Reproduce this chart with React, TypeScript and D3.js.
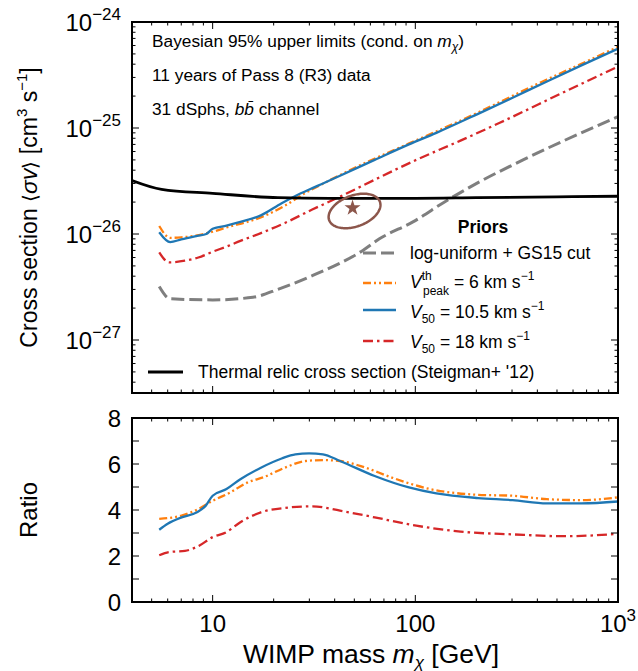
import React from "react";
import * as d3 from "d3";

// WIMP mass grid (GeV) and limits
const massThermal = [4, 5.6, 10, 21, 38, 100, 200, 500, 1000];
const sigmaThermal = [3.2e-26, 2.64e-26, 2.42e-26, 2.2e-26, 2.17e-26, 2.17e-26, 2.2e-26, 2.24e-26, 2.27e-26];

const massGS15 = [5.45, 6.17, 10, 15.8, 21.3, 31.2, 55.1, 66.5, 97.3, 142, 207, 340, 1000];
const sigmaGS15 = [3.2e-27, 2.45e-27, 2.39e-27, 2.53e-27, 3.04e-27, 4.06e-27, 7.0e-27, 9.0e-27, 1.3e-26, 2.05e-26, 3.1e-26, 5.0e-26, 1.28e-25];

const massV105 = [5.45, 6.17, 7.0, 8.4, 9.3, 10, 11.7, 13.7, 17.3, 21.9, 25.6, 30, 35, 42.5, 63, 93, 127, 204, 302, 446, 660, 1000];
const sigmaV105 = [1.04e-26, 8.4e-27, 8.9e-27, 9.6e-27, 1.0e-26, 1.12e-26, 1.2e-26, 1.3e-26, 1.5e-26, 1.95e-26, 2.28e-26, 2.63e-26, 3.0e-26, 3.55e-26, 5.0e-26, 7.0e-26, 9.0e-26, 1.36e-25, 1.93e-25, 2.75e-25, 3.9e-25, 5.6e-25];

const massVpeak = [5.45, 6.17, 7.0, 8.4, 10, 12.2, 14.8, 18, 22.7, 28.8, 35, 42.5, 54, 77, 113, 204, 302, 446, 660, 1000];
const sigmaVpeak = [1.19e-26, 9.2e-27, 9.3e-27, 9.7e-27, 1.05e-26, 1.18e-26, 1.3e-26, 1.48e-26, 1.85e-26, 2.45e-26, 2.98e-26, 3.6e-26, 4.5e-26, 6.1e-26, 8.4e-26, 1.4e-25, 2.01e-25, 2.87e-25, 4.03e-25, 5.83e-25];

const massV18 = [5.45, 6.1, 7.3, 8.5, 10, 11.7, 13.7, 17.3, 22.7, 31, 42.5, 63, 101, 167, 261, 546, 1000];
const sigmaV18 = [6.7e-27, 5.4e-27, 5.6e-27, 6.0e-27, 6.8e-27, 7.6e-27, 8.6e-27, 1.02e-26, 1.27e-26, 1.7e-26, 2.25e-26, 3.25e-26, 5.0e-26, 7.6e-26, 1.12e-25, 2.2e-25, 3.8e-25];

// ratio to log-uniform + GS15 cut
const ratioMassV105 = [5.45, 6.0, 7.03, 8.37, 9.25, 10, 11.7, 13.7, 17.3, 21.9, 25.6, 29.9, 35, 42.5, 63, 93, 127, 204, 302, 446, 660, 1000];
const ratioV105 = [3.14, 3.4, 3.68, 3.9, 4.19, 4.62, 4.91, 5.34, 5.84, 6.24, 6.42, 6.46, 6.42, 6.13, 5.48, 4.98, 4.72, 4.52, 4.43, 4.29, 4.29, 4.37];
const ratioMassVpeak = [5.45, 7.03, 8.5, 10, 12.2, 14.8, 18, 22.7, 28.8, 35, 42.5, 53.8, 76.6, 113, 204, 302, 446, 660, 1000];
const ratioVpeak = [3.61, 3.76, 4.04, 4.4, 4.76, 5.19, 5.44, 5.84, 6.13, 6.17, 6.13, 5.91, 5.41, 4.95, 4.66, 4.62, 4.47, 4.43, 4.55];
const ratioMassV18 = [5.45, 6.1, 7.3, 8.5, 10, 11.7, 13.7, 17.3, 22.7, 31, 42.5, 63, 101, 167, 302, 546, 1000];
const ratioV18 = [2.03, 2.17, 2.22, 2.43, 2.82, 3.04, 3.47, 3.9, 4.09, 4.16, 3.97, 3.68, 3.32, 3.06, 2.94, 2.86, 2.96];

// Galactic Centre excess best fit
const gceMass = 49;
const gceSigma = 1.76e-26;

const yTopTicks = [-27, -26, -25, -24];
const yBotTicks = [0, 2, 4, 6, 8];
const xTickLabels = [
  { v: 10, base: "10", sup: "" },
  { v: 100, base: "100", sup: "" },
  { v: 1000, base: "10", sup: "3" },
];

const W = 638, H = 671;
const L = 132, R = 618, T1 = 22, B1 = 393, T2 = 418, B2 = 602;
const FONT = "Liberation Sans, Arial, sans-serif";

const C_BLUE = "#1f77b4", C_ORANGE = "#ff7f0e", C_RED = "#d62728", C_GRAY = "#7f7f7f", C_BROWN = "#8c564b";
const DASH_GRAY = "13,5", DASH_RED = "10,4,2.5,4", DASH_ORANGE = "8,3,2,3,2,3";

const zip = (a: number[], b: number[]) => a.map((v, i) => [v, b[i]] as [number, number]);

export default function App() {
  const x = d3.scaleLog().domain([4, 1000]).range([L, R]);
  const yTop = d3.scaleLog().domain([Math.pow(10, -27.5), 1e-24]).range([B1, T1]);
  const yBot = d3.scaleLinear().domain([0, 8]).range([B2, T2]);

  const lineTop = d3.line<[number, number]>().x((d) => x(d[0])).y((d) => yTop(d[1])).curve(d3.curveMonotoneX);
  const lineBot = d3.line<[number, number]>().x((d) => x(d[0])).y((d) => yBot(d[1])).curve(d3.curveMonotoneX);

  const isPow10 = (v: number) => Math.abs(Math.log10(v) - Math.round(Math.log10(v))) < 1e-6;
  const xTicksAll = x.ticks();
  const yTopTicksAll = yTop.ticks();

  const topSeries = [
    { d: zip(massGS15, sigmaGS15), c: C_GRAY, dash: DASH_GRAY, w: 3 },
    { d: zip(massV18, sigmaV18), c: C_RED, dash: DASH_RED, w: 2.3 },
    { d: zip(massVpeak, sigmaVpeak), c: C_ORANGE, dash: DASH_ORANGE, w: 2.3 },
    { d: zip(massV105, sigmaV105), c: C_BLUE, dash: "none", w: 2.3 },
    { d: zip(massThermal, sigmaThermal), c: "#000", dash: "none", w: 2.8 },
  ];
  const botSeries = [
    { d: zip(ratioMassV18, ratioV18), c: C_RED, dash: DASH_RED },
    { d: zip(ratioMassVpeak, ratioVpeak), c: C_ORANGE, dash: DASH_ORANGE },
    { d: zip(ratioMassV105, ratioV105), c: C_BLUE, dash: "none" },
  ];

  // GCE contour around the best-fit star
  const cx = x(gceMass), cy = yTop(gceSigma);
  const ell = d3.range(0, 2 * Math.PI + 0.01, 0.05).map((t) => {
    const a = 27, b = 15.5, th = (-20 * Math.PI) / 180;
    const ex = a * Math.cos(t), ey = b * Math.sin(t);
    return [cx + 2 + ex * Math.cos(th) - ey * Math.sin(th), cy + 3 + ex * Math.sin(th) + ey * Math.cos(th)] as [number, number];
  });
  const ellPath = d3.line().curve(d3.curveLinearClosed)(ell);
  const star = d3.symbol().type(d3.symbolStar).size(80)();

  const frame = (top: number, bottom: number) => (
    <rect x={L} y={top} width={R - L} height={bottom - top} fill="none" stroke="#000" strokeWidth={2} />
  );

  const xTicks = (top: number, bottom: number) =>
    xTicksAll.map((v, i) => {
      const len = isPow10(v) ? 7 : 3.5;
      const px = x(v);
      return (
        <g key={"xt" + i}>
          <line x1={px} x2={px} y1={bottom} y2={bottom - len} stroke="#000" strokeWidth={1} />
          <line x1={px} x2={px} y1={top} y2={top + len} stroke="#000" strokeWidth={1} />
        </g>
      );
    });

  const legendItems = [
    { c: C_GRAY, dash: DASH_GRAY, w: 3, y: 253 },
    { c: C_ORANGE, dash: DASH_ORANGE, w: 2.3, y: 283 },
    { c: C_BLUE, dash: "none", w: 2.3, y: 310 },
    { c: C_RED, dash: DASH_RED, w: 2.3, y: 341 },
  ];

  return (
    <svg width={W} height={H} style={{ position: "absolute", left: 0, top: 0, background: "#fff" }} fontFamily={FONT}>
      <defs>
        <clipPath id="clipTop"><rect x={L} y={T1} width={R - L} height={B1 - T1} /></clipPath>
        <clipPath id="clipBot"><rect x={L} y={T2} width={R - L} height={B2 - T2} /></clipPath>
      </defs>

      {/* top panel */}
      <g clipPath="url(#clipTop)">
        {topSeries.map((s, i) => (
          <path key={i} d={lineTop(s.d) || ""} fill="none" stroke={s.c} strokeWidth={s.w} strokeDasharray={s.dash} />
        ))}
        <path d={ellPath || ""} fill="none" stroke={C_BROWN} strokeWidth={2.5} />
        <path d={star || ""} transform={`translate(${cx},${cy})`} fill={C_BROWN} />
      </g>
      {xTicks(T1, B1)}
      {yTopTicksAll.map((v, i) => {
        const len = isPow10(v) ? 7 : 3.5;
        const py = yTop(v);
        return (
          <g key={"yt" + i}>
            <line x1={L} x2={L + len} y1={py} y2={py} stroke="#000" strokeWidth={1} />
            <line x1={R} x2={R - len} y1={py} y2={py} stroke="#000" strokeWidth={1} />
          </g>
        );
      })}
      {frame(T1, B1)}
      {yTopTicks.map((e) => (
        <text key={e} x={L - 11} y={yTop(Math.pow(10, e)) + 9} textAnchor="end" fontSize={24}>
          10<tspan fontSize={17} dy={-11}>{"\u2212" + Math.abs(e)}</tspan>
        </text>
      ))}

      {/* annotations */}
      <g fontSize={17.3}>
        <text x={152} y={47}>
          Bayesian 95% upper limits (cond. on <tspan fontStyle="italic">m</tspan>
          <tspan fontSize={12} dy={4} fontStyle="italic">χ</tspan>
          <tspan dy={-4}>)</tspan>
        </text>
        <text x={152} y={81}>11 years of Pass 8 (R3) data</text>
        <text x={152} y={115}>
          31 dSphs, <tspan fontStyle="italic">b{"b\u0304"}</tspan> channel
        </text>
      </g>

      {/* legend */}
      <g fontSize={17.5}>
        <text x={483} y={233} textAnchor="middle" fontWeight="bold">Priors</text>
        {legendItems.map((it, i) => (
          <line key={i} x1={363} x2={396} y1={it.y} y2={it.y} stroke={it.c} strokeWidth={it.w} strokeDasharray={it.dash} />
        ))}
        <text x={410} y={259}>log-uniform + GS15 cut</text>
        <text x={410} y={288}>
          <tspan fontStyle="italic">V</tspan>
          <tspan fontSize={12} dy={-8}>th</tspan>
        </text>
        <text x={423} y={295} fontSize={12}>peak</text>
        <text x={454} y={288}>
          = 6 km s<tspan fontSize={12} dy={-8}>{"\u22121"}</tspan>
        </text>
        <text x={410} y={318}>
          <tspan fontStyle="italic">V</tspan>
          <tspan fontSize={12} dy={5}>50</tspan>
          <tspan dy={-5}> = 10.5 km s</tspan>
          <tspan fontSize={12} dy={-8}>{"\u22121"}</tspan>
        </text>
        <text x={410} y={348}>
          <tspan fontStyle="italic">V</tspan>
          <tspan fontSize={12} dy={5}>50</tspan>
          <tspan dy={-5}> = 18 km s</tspan>
          <tspan fontSize={12} dy={-8}>{"\u22121"}</tspan>
        </text>
        <line x1={148} x2={183} y1={372} y2={372} stroke="#000" strokeWidth={2.8} />
        <text x={198} y={378}>Thermal relic cross section (Steigman+ '12)</text>
      </g>

      {/* y label top */}
      <text transform={`translate(37,${(T1 + B1) / 2}) rotate(-90)`} textAnchor="middle" fontSize={23}>
        Cross section <tspan fontSize={20}>⟨</tspan><tspan fontStyle="italic">σv</tspan><tspan fontSize={20}>⟩</tspan> [cm<tspan fontSize={15} dy={-10}>3</tspan>
        <tspan dy={10}> s</tspan>
        <tspan fontSize={15} dy={-10}>{"\u22121"}</tspan>
        <tspan dy={10}>]</tspan>
      </text>

      {/* bottom panel */}
      <g clipPath="url(#clipBot)">
        {botSeries.map((s, i) => (
          <path key={i} d={lineBot(s.d) || ""} fill="none" stroke={s.c} strokeWidth={2.3} strokeDasharray={s.dash} />
        ))}
      </g>
      {xTicks(T2, B2)}
      {d3.range(0, 9).map((v) => (
        <g key={"yb" + v}>
          <line x1={L} x2={L + 7} y1={yBot(v)} y2={yBot(v)} stroke="#000" strokeWidth={1} />
          <line x1={R} x2={R - 7} y1={yBot(v)} y2={yBot(v)} stroke="#000" strokeWidth={1} />
        </g>
      ))}
      {frame(T2, B2)}
      {yBotTicks.map((v) => (
        <text key={v} x={L - 11} y={yBot(v) + 8.5} textAnchor="end" fontSize={24}>{v}</text>
      ))}
      {xTickLabels.map((t) => (
        <text key={t.v} x={x(t.v)} y={632} textAnchor="middle" fontSize={24}>
          {t.base}
          {t.sup && <tspan fontSize={17} dy={-11}>{t.sup}</tspan>}
        </text>
      ))}
      <text transform={`translate(37,${(T2 + B2) / 2}) rotate(-90)`} textAnchor="middle" fontSize={24}>Ratio</text>
      <text x={371} y={663} textAnchor="middle" fontSize={26.5}>
        WIMP mass <tspan fontStyle="italic">m</tspan>
        <tspan fontSize={17} dy={5} fontStyle="italic">χ</tspan>
        <tspan dy={-5}> [GeV]</tspan>
      </text>
    </svg>
  );
}
